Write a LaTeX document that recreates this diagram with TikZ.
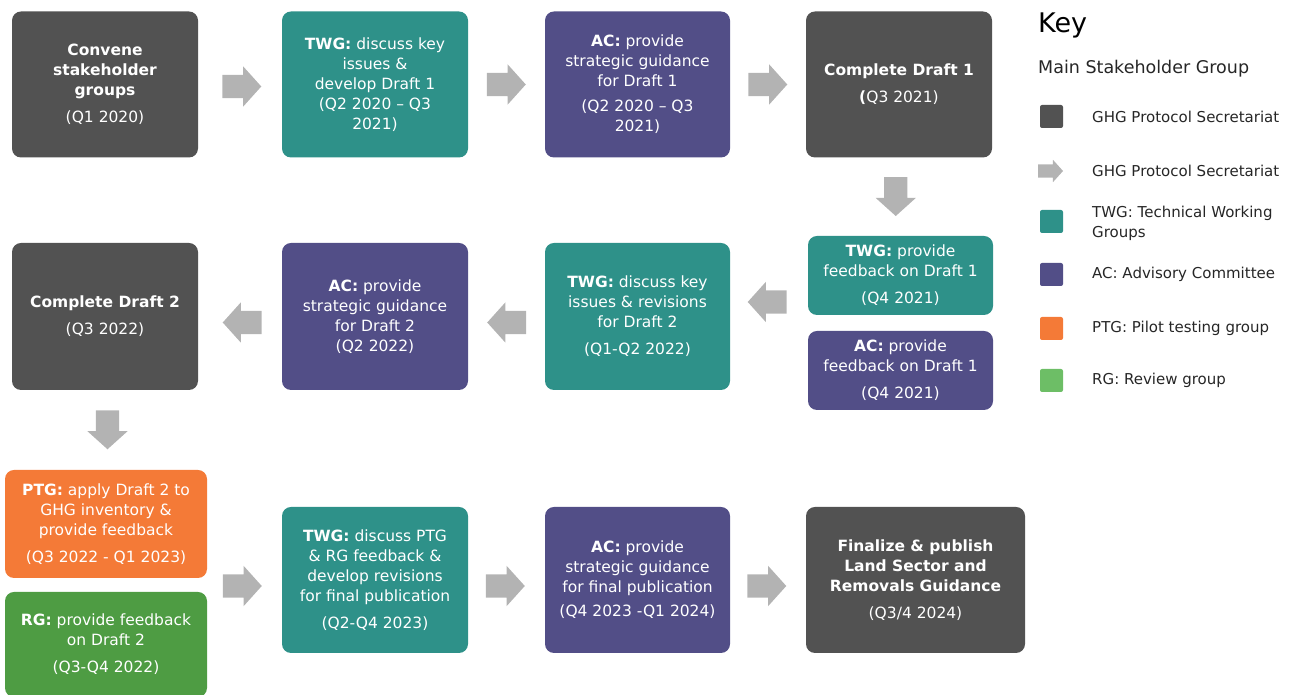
\documentclass[tikz,border=0pt]{standalone}
\usepackage{fontspec}
\setmainfont{DejaVu Sans}
\usetikzlibrary{shapes.arrows,calc}
\definecolor{sgray}{HTML}{525252}
\definecolor{steal}{HTML}{2E9189}
\definecolor{spurple}{HTML}{524E87}
\definecolor{sorange}{HTML}{F47A37}
\definecolor{sgreen}{HTML}{4E9C43}
\definecolor{kgreen}{HTML}{6DBE66}
\definecolor{agray}{HTML}{B3B3B3}
\definecolor{keytext}{HTML}{262626}
\begin{document}
\begin{tikzpicture}[x=1pt,y=1pt,
  box/.style={rounded corners=9pt, text=white, align=center, inner sep=0pt,
    font=\fontsize{15.5}{20}\selectfont},
  big/.style={box, minimum width=186pt, minimum height=146pt},
  small/.style={box, minimum width=185pt, minimum height=79pt},
  gbox/.style={big, fill=sgray},
  tbox/.style={big, fill=steal},
  pbox/.style={big, fill=spurple},
  barrow/.style={shape=single arrow, fill=agray, draw=none, inner xsep=0pt,
    inner ysep=11.5pt, single arrow head extend=8.5pt, single arrow tip angle=96,
    minimum height=39pt},
  karrow/.style={shape=single arrow, fill=agray, draw=none, inner xsep=0pt,
    inner ysep=6.5pt, single arrow head extend=4.5pt, single arrow tip angle=96,
    minimum height=25pt},
  ksq/.style={minimum width=23pt, minimum height=23pt, inner sep=0pt, rounded corners=2pt, draw=none},
  ktxt/.style={anchor=west, text=keytext, font=\fontsize{15}{20}\selectfont, align=left, inner sep=0pt}
]
\useasboundingbox (0,0) rectangle (1296,695);
\clip (0,0) rectangle (1296,695);

% Row 1
\node[gbox] (b1) at (105,610.5) {\textbf{Convene}\\\textbf{stakeholder}\\\textbf{groups}\\[7pt](Q1 2020)};
\node[tbox] (b2) at (375,610.5) {\textbf{TWG:} discuss key\\issues \&\\develop Draft 1\\(Q2 2020 – Q3\\2021)};
\node[pbox, minimum width=185pt] (b3) at (637.5,610.5) {\textbf{AC:} provide\\strategic guidance\\for Draft 1\\[5pt](Q2 2020 – Q3\\2021)};
\node[gbox] (b4) at (899,610.5) {\textbf{Complete Draft 1}\\[7pt]\textbf{(}Q3 2021)};

% Feedback on Draft 1
\node[small, fill=steal] (fb1) at (900.5,419.5) {\textbf{TWG:} provide\\feedback on Draft 1\\[7pt](Q4 2021)};
\node[small, fill=spurple] (fb2) at (900.5,324.5) {\textbf{AC:} provide\\feedback on Draft 1\\[7pt](Q4 2021)};

% Row 2
\node[tbox, minimum width=185pt, minimum height=147pt] (r2a) at (637.5,378.5) {\textbf{TWG:} discuss key\\issues \& revisions\\for Draft 2\\[7pt](Q1-Q2 2022)};
\node[pbox, minimum height=147pt] (r2b) at (375,378.5) {\textbf{AC:} provide\\strategic guidance\\for Draft 2\\(Q2 2022)};
\node[gbox, minimum height=147pt] (r2c) at (105,378.5) {\textbf{Complete Draft 2}\\[7pt](Q3 2022)};

% Row 3
\node[box, fill=sorange, minimum width=202pt, minimum height=108pt] (ptg) at (106,171) {\textbf{PTG:} apply Draft 2 to\\GHG inventory \&\\provide feedback\\[7pt](Q3 2022 - Q1 2023)};
\node[box, fill=sgreen, minimum width=202pt, minimum height=105pt] (rg) at (106,50.5) {\textbf{RG:} provide feedback\\on Draft 2\\[7pt](Q3-Q4 2022)};
\node[tbox] (r3a) at (375,115) {\textbf{TWG:} discuss PTG\\\& RG feedback \&\\develop revisions\\for final publication\\[7pt](Q2-Q4 2023)};
\node[pbox, minimum width=185pt] (r3b) at (637.5,115) {\textbf{AC:} provide\\strategic guidance\\for final publication\\[4pt](Q4 2023 -Q1 2024)};
\node[gbox, minimum width=219pt] (r3c) at (915.5,115) {\textbf{Finalize \& publish}\\\textbf{Land Sector and}\\\textbf{Removals Guidance}\\[7pt](Q3/4 2024)};

% Block arrows
\node[barrow] (a1) at ($(b1.east)!0.5!(b2.west)+(-3.5,-2)$) {};
\node[barrow] (a2) at ($(b2.east)!0.5!(b3.west)+(-5.5,0)$) {};
\node[barrow] (a3) at ($(b3.east)!0.5!(b4.west)+(-5.5,0)$) {};
\node[barrow, rotate=-90] (a4) at ($(b4.south)!0.5!(fb1.north)+(-4,5.5)$) {};
\node[barrow, rotate=180] (a5) at ($(r2a.east)!0.5!(fb1.west)+(3.5,-6)$) {};
\node[barrow, rotate=180] (a6) at ($(r2b.east)!0.5!(r2a.west)+(5.5,-6)$) {};
\node[barrow, rotate=180] (a7) at ($(r2c.east)!0.5!(r2b.west)+(7.5,-6)$) {};
\node[barrow, rotate=-90] (a8) at ($(r2c.south)!0.5!(ptg.north)+(2,5.5)$) {};
\node[barrow] (a9) at ($(ptg.east |- r3a.west)!0.5!(r3a.west)+(-7.5,-6)$) {};
\node[barrow] (a10) at ($(r3a.east)!0.5!(r3b.west)+(-6.5,-6)$) {};
\node[barrow] (a11) at ($(r3b.east)!0.5!(r3c.west)+(-6.5,-6)$) {};

% Key
\node[anchor=west, inner sep=0pt, text=black, font=\fontsize{27}{30}\selectfont] (keyt) at (1038,670) {Key};
\node[anchor=west, inner sep=0pt, text=keytext, font=\fontsize{17.5}{20}\selectfont] (msg) at (1038,626) {Main Stakeholder Group};
\node[ksq, fill=sgray] (k1) at (1051.5,578.5) {};
\node[ktxt] (k1t) at (1092,578.5) {GHG Protocol Secretariat};
\node[karrow] (k2) at (1047.5,524) {};
\node[ktxt] (k2t) at (1092,524.5) {GHG Protocol Secretariat};
\node[ksq, fill=steal] (k3) at (1051.5,473.5) {};
\node[ktxt] (k3t) at (1092,472) {TWG: Technical Working\\Groups};
\node[ksq, fill=spurple] (k4) at (1051.5,420.5) {};
\node[ktxt] (k4t) at (1092,420.5) {AC: Advisory Committee};
\node[ksq, fill=sorange] (k5) at (1051.5,366.5) {};
\node[ktxt] (k5t) at (1092,366.5) {PTG: Pilot testing group};
\node[ksq, fill=kgreen] (k6) at (1051.5,314.5) {};
\node[ktxt] (k6t) at (1092,314.5) {RG: Review group};
\end{tikzpicture}
\end{document}
